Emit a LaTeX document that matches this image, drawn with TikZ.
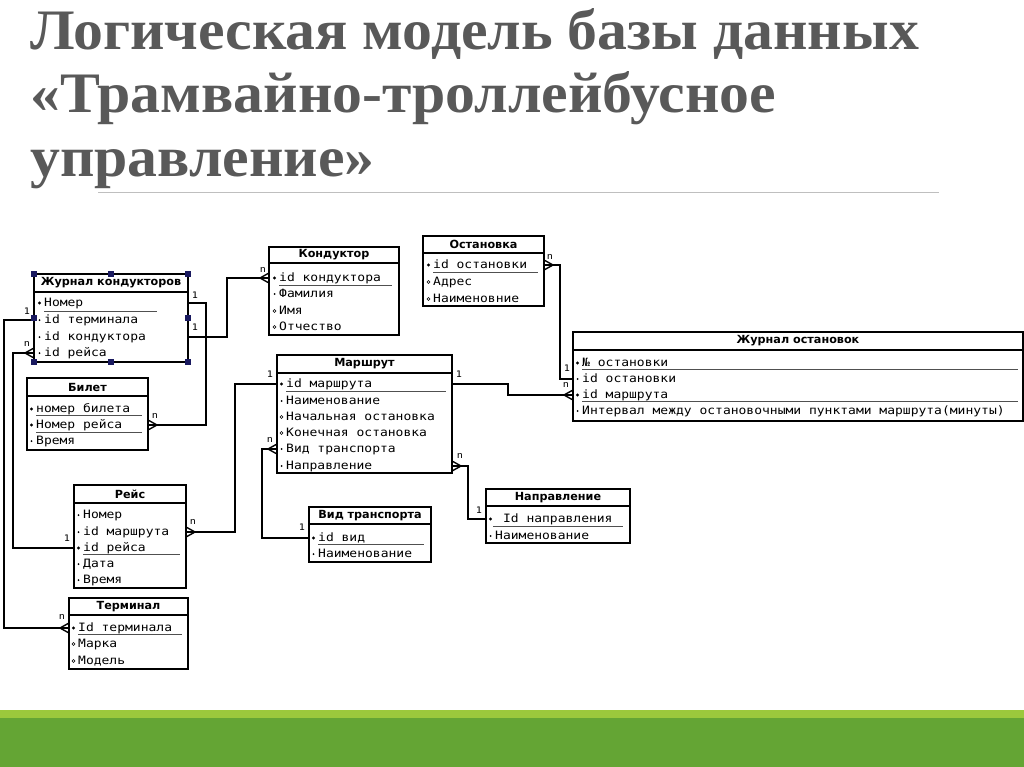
\documentclass[tikz,border=0pt]{standalone}
\usepackage{fontspec}
\usepackage{graphicx}
\setmainfont{Liberation Serif}
\newfontfamily\monof[FakeStretch=1.13]{DejaVu Sans Mono}
\newfontfamily\sansf{DejaVu Sans}
\usetikzlibrary{calc}
\definecolor{titlegrey}{RGB}{89,89,89}
\definecolor{lgreen}{RGB}{155,200,60}
\definecolor{dgreen}{RGB}{100,165,52}
\definecolor{handle}{RGB}{25,25,95}
\definecolor{ulgrey}{RGB}{80,80,80}
\tikzset{
 tbox/.style={draw=black, line width=1.6pt, anchor=north west, inner sep=0pt, outer sep=0pt, fill=white},
 hsep/.style={line width=1.2pt},
 hdr/.style={font=\sansf\bfseries\fontsize{11.2}{12}\selectfont, inner sep=0pt},
 attr/.style={font=\monof\fontsize{11.5}{13}\selectfont, anchor=west, inner sep=0pt, text height=8pt, text depth=2pt},
 uline/.style={line width=0.8pt, draw=ulgrey},
 conn/.style={line width=1.8pt, line join=miter},
 crowl/.style={line width=1.4pt},
 card/.style={font=\monof\fontsize{9}{10}\selectfont, inner sep=0pt},
 hnd/.style={fill=handle, minimum size=6.5pt, inner sep=0pt},
 ttl/.style={anchor=base west, inner sep=0pt, text=titlegrey, font=\bfseries\fontsize{54}{60}\selectfont},
}
\newcommand\dbtable[7]{%
  \node[tbox, minimum width=#4pt, minimum height=#5pt] (#1) at (#2,#3) {};
  \draw[hsep] (#2,#6) -- ++(#4,0);
  \node[hdr] (#1-h) at ({#2+#4/2},{(#3+#6)/2}) {#7};
}
\newcommand\attrrow[5]{%
  \node[attr] (#1) at (#2,#3) {#5};
  \ifcase#4 \fill (#2-4.5,#3) circle (1.0pt);\or \fill (#2-4.5,#3) circle (1.6pt);\or \draw[line width=0.6pt] (#2-4.5,#3) circle (1.5pt);\fi
}
\newcommand\crowfoot[2]{\draw[crowl] ($(#1)+(#2*9,0)$) -- ($(#1)+(0,-5)$) ($(#1)+(#2*9,0)$) -- ($(#1)+(0,5)$);}
\newcommand\ttltext[1]{\scalebox{1.107}[1.06]{#1}}
\begin{document}
\begin{tikzpicture}[x=1pt,y=-1pt]
\useasboundingbox (0,0) rectangle (1024,767);
\fill[white] (0,0) rectangle (1024,767);
% title
\node[ttl] (t1) at (30,50) {\ttltext{Логическая модель базы данных}};
\node[ttl] (t2) at (30,113) {\ttltext{«Трамвайно-троллейбусное}};
\node[ttl] (t3) at (30,177) {\ttltext{управление»}};
\draw[line width=1pt, draw=black!25] (98,193) -- (939,193);
% green bands
\fill[lgreen] (0,710) rectangle (1024,718);
\fill[dgreen] (0,718) rectangle (1024,767);

% Журнал кондукторов
\dbtable{jk}{34}{274}{154}{88}{292}{Журнал кондукторов}
\attrrow{jk1}{44}{303}{1}{Номер}
\attrrow{jk2}{44}{320}{0}{id терминала}
\attrrow{jk3}{44}{337}{0}{id кондуктора}
\attrrow{jk4}{44}{353}{0}{id рейса}
\draw[uline] (44,311) -- (157,311);

% Кондуктор
\dbtable{kd}{269}{247}{130}{88}{263}{Кондуктор}
\attrrow{kd1}{279}{278}{1}{id кондуктора}
\attrrow{kd2}{279}{294}{0}{Фамилия}
\attrrow{kd3}{279}{311}{2}{Имя}
\attrrow{kd4}{279}{327}{2}{Отчество}
\draw[uline] (279,285) -- (392,285);

% Остановка
\dbtable{os}{423}{236}{121}{70}{253}{Остановка}
\attrrow{os1}{433}{265}{1}{id остановки}
\attrrow{os2}{433}{282}{2}{Адрес}
\attrrow{os3}{433}{299}{2}{Наименовние}
\draw[uline] (433,272) -- (538,272);

% Журнал остановок
\dbtable{jo}{573}{332}{450}{89}{350}{Журнал остановок}
\attrrow{jo1}{582}{363}{1}{№ остановки}
\attrrow{jo2}{582}{379}{0}{id остановки}
\attrrow{jo3}{582}{395}{1}{id маршрута}
\attrrow{jo4}{582}{411}{0}{Интервал между остановочными пунктами маршрута(минуты)}
\draw[uline] (582,369) -- (1018,369);
\draw[uline] (582,401) -- (1018,401);

% Маршрут
\dbtable{mr}{277}{355}{175}{118}{373}{Маршрут}
\attrrow{mr1}{286}{384}{1}{id маршрута}
\attrrow{mr2}{286}{401}{0}{Наименование}
\attrrow{mr3}{286}{417}{2}{Начальная остановка}
\attrrow{mr4}{286}{433}{2}{Конечная остановка}
\attrrow{mr5}{286}{449}{0}{Вид транспорта}
\attrrow{mr6}{286}{466}{0}{Направление}
\draw[uline] (286,391) -- (446,391);

% Билет
\dbtable{bl}{27}{378}{121}{72}{396}{Билет}
\attrrow{bl1}{36}{409}{1}{номер билета}
\attrrow{bl2}{36}{425}{1}{Номер рейса}
\attrrow{bl3}{36}{441}{0}{Время}
\draw[uline] (36,415) -- (142,415);
\draw[uline] (36,432) -- (142,432);

% Рейс
\dbtable{rs}{74}{485}{112}{103}{503}{Рейс}
\attrrow{rs1}{83}{515}{0}{Номер}
\attrrow{rs2}{83}{532}{0}{id маршрута}
\attrrow{rs3}{83}{548}{1}{id рейса}
\attrrow{rs4}{83}{564}{0}{Дата}
\attrrow{rs5}{83}{580}{0}{Время}
\draw[uline] (83,554) -- (180,554);

% Терминал
\dbtable{tm}{69}{598}{119}{71}{615}{Терминал}
\attrrow{tm1}{78}{628}{1}{Id терминала}
\attrrow{tm2}{78}{644}{2}{Марка}
\attrrow{tm3}{78}{661}{2}{Модель}
\draw[uline] (78,634) -- (182,634);

% Вид транспорта
\dbtable{vt}{309}{507}{122}{55}{524}{Вид транспорта}
\attrrow{vt1}{318}{538}{1}{id вид}
\attrrow{vt2}{318}{554}{0}{Наименование}
\draw[uline] (318,544) -- (424,544);

% Направление
\dbtable{np}{486}{489}{144}{54}{506}{Направление}
\attrrow{np1}{495}{519}{1}{\ Id направления}
\attrrow{np2}{495}{536}{0}{Наименование}
\draw[uline] (493,526) -- (623,526);

% connectors
\draw[conn] (jk.east |- jk1) -- ++(18,0) |- (bl.east |- bl2);
\crowfoot{bl.east |- bl2}{1}
\draw[conn] (jk.east |- jk3) -- ++(39,0) |- (kd.west |- kd1);
\crowfoot{kd.west |- kd1}{-1}
\draw[conn] (jk.west |- jk2) -- ++(-30,0) |- (tm.west |- tm1);
\crowfoot{tm.west |- tm1}{-1}
\draw[conn] (jk.west |- jk4) -- ++(-21,0) |- (rs.west |- rs3);
\crowfoot{jk.west |- jk4}{-1}
\draw[conn] (mr.west |- mr1) -- ++(-42,0) |- (rs.east |- rs2);
\crowfoot{rs.east |- rs2}{1}
\draw[conn] (mr.west |- mr5) -- ++(-15,0) |- (vt.west |- vt1);
\crowfoot{mr.west |- mr5}{-1}
\draw[conn] (mr.east |- mr6) -- ++(16,0) |- (np.west |- np1);
\crowfoot{mr.east |- mr6}{1}
\draw[conn] (mr.east |- mr1) -- ++(56,0) |- (jo.west |- jo3);
\crowfoot{jo.west |- jo3}{-1}
\draw[conn] (os.east |- os1) -- ++(16,0) |- (jo.west |- jo2);
\crowfoot{os.east |- os1}{1}

% cardinalities
\node[card] (l1a) at (195,295) {1};
\node[card] (l1b) at (155,416) {n};
\node[card] (l2a) at (195,327) {1};
\node[card] (l2b) at (263,270) {n};
\node[card] (l3a) at (27,311) {1};
\node[card] (l3b) at (62,617) {n};
\node[card] (l4a) at (27,344) {n};
\node[card] (l4b) at (67,538) {1};
\node[card] (l5a) at (270,374) {1};
\node[card] (l5b) at (193,522) {n};
\node[card] (l6a) at (270,440) {n};
\node[card] (l6b) at (302,527) {1};
\node[card] (l7a) at (460,456) {n};
\node[card] (l7b) at (479,510) {1};
\node[card] (l8a) at (459,374) {1};
\node[card] (l8b) at (566,385) {n};
\node[card] (l9a) at (550,257) {n};
\node[card] (l9b) at (567,368) {1};

% selection handles
\foreach \a in {north west,north,north east,west,east,south west,south,south east}
  \node[hnd] at (jk.\a) {};
\end{tikzpicture}
\end{document}
